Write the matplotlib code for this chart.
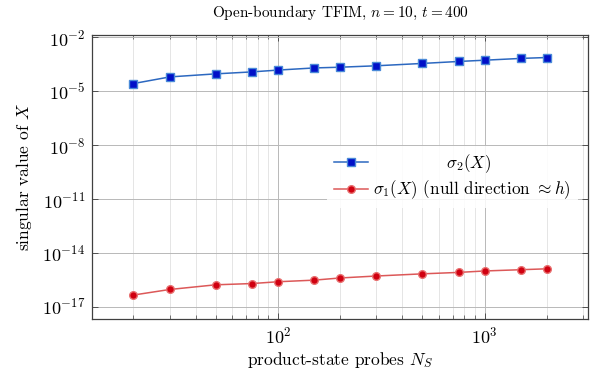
import numpy as np
from matplotlib import pyplot as plt
from matplotlib import ticker

plt.rcParams['font.family'] = ['cmr10', 'DejaVu Serif']
plt.rcParams['mathtext.fontset'] = 'cm'
plt.rcParams['axes.formatter.use_mathtext'] = True
plt.rcParams['font.size'] = 12

# probe counts and singular values
n_probes = [20, 30, 50, 75, 100, 150, 200, 300, 500, 750, 1000, 1500, 2000]
sigma2_log = [-4.57, -4.20, -4.03, -3.92, -3.82, -3.70, -3.66, -3.58,
              -3.45, -3.34, -3.27, -3.17, -3.12]
sigma1_log = [-16.34, -16.03, -15.77, -15.70, -15.60, -15.51, -15.39, -15.28,
              -15.16, -15.08, -15.00, -14.93, -14.88]
sigma2 = 10.0 ** np.array(sigma2_log)
sigma1 = 10.0 ** np.array(sigma1_log)

fig = plt.figure(figsize=(5.94, 3.75), dpi=100)
ax = fig.add_axes([0.155, 0.149, 0.835, 0.758])

ax.plot(n_probes, sigma2, color='#2c68c0', lw=1.1, marker='s', ms=5.5,
        mfc='#0010c8', mec='#4a8ad8', mew=1.0,
        label=r'$\hspace{4.9}\sigma_2(X)$', zorder=3)
ax.plot(n_probes, sigma1, color='#dc5858', lw=1.1, marker='o', ms=5.5,
        mfc='#d00010', mec='#e87070', mew=1.0,
        label=r'$\sigma_1(X)$ (null direction $\approx h$)', zorder=3)

ax.set_xscale('log')
ax.set_yscale('log')
ax.set_xlim(10 ** 1.101, 10 ** 3.501)
ax.set_ylim(10 ** -17.68, 10 ** -1.86)

ax.yaxis.set_major_locator(ticker.FixedLocator(10.0 ** np.arange(-17, -1, 3)))
ax.yaxis.set_major_formatter(ticker.LogFormatterMathtext())
ax.yaxis.set_minor_locator(ticker.NullLocator())
ax.xaxis.set_major_locator(ticker.LogLocator(base=10, numticks=10))
ax.xaxis.set_minor_locator(ticker.LogLocator(base=10, subs=np.arange(2, 10), numticks=20))
ax.xaxis.set_minor_formatter(ticker.NullFormatter())

ax.tick_params(which='both', direction='in', top=True, right=True, color='#404040')
ax.tick_params(which='major', length=4.5, width=0.6, labelsize=13, pad=5)
ax.tick_params(which='minor', length=2.8, width=0.5)

ax.grid(which='major', color='#b8b8b8', lw=0.7)
ax.grid(which='minor', axis='x', color='#e0e0e0', lw=0.6)
ax.set_axisbelow(True)
for sp in ax.spines.values():
    sp.set_color('#404040')
    sp.set_linewidth(0.9)

ax.set_title(r'Open-boundary TFIM, $n = 10$, $t = 400$', fontsize=11, pad=13)
ax.set_xlabel(r'product-state probes $N_S$', fontsize=12.5, labelpad=2)
ax.set_ylabel(r'singular value of $X$', fontsize=12.5, labelpad=6)

leg = ax.legend(loc='center right', fontsize=12.3, frameon=True, fancybox=False,
                framealpha=0.85, edgecolor='none', borderaxespad=0.6,
                handlelength=2.0, handletextpad=0.3, borderpad=0.4,
                labelspacing=0.2)
leg.get_frame().set_linewidth(0)

fig.savefig('out.png', dpi=100)
